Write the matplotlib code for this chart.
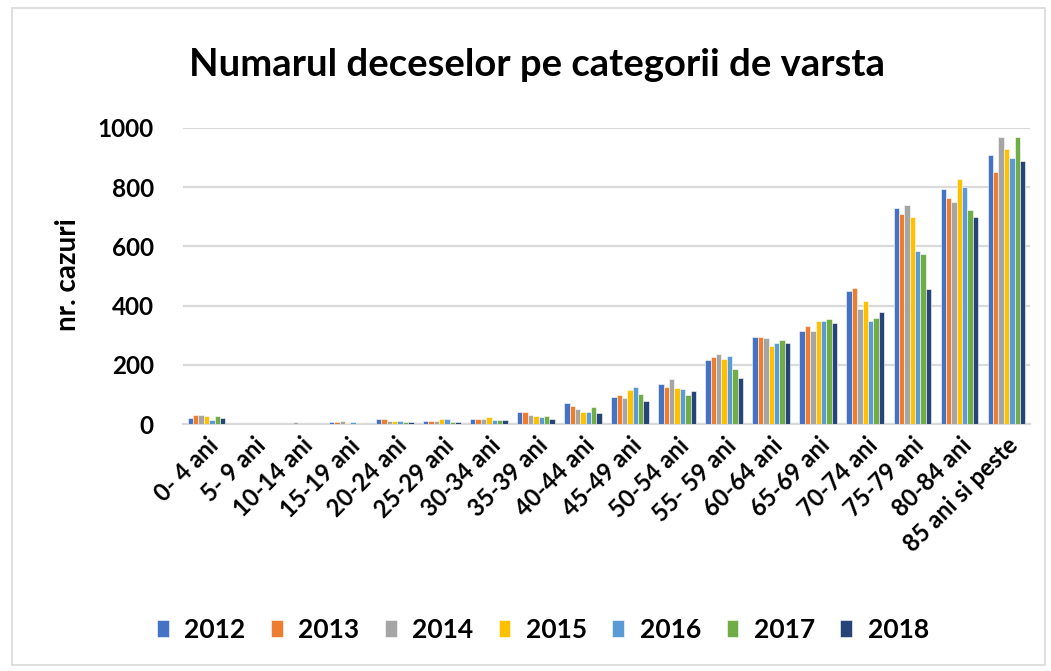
import matplotlib
matplotlib.use("Agg")
import matplotlib.pyplot as plt
import numpy as np
from matplotlib.patches import Rectangle

categories = ["0- 4 ani", "5- 9 ani", "10-14 ani", "15-19 ani", "20-24 ani", "25-29 ani",
              "30-34 ani", "35-39 ani", "40-44 ani", "45-49 ani", "50-54 ani", "55- 59 ani",
              "60-64 ani", "65-69 ani", "70-74 ani", "75-79 ani", "80-84 ani", "85 ani si peste"]
years = ["2012", "2013", "2014", "2015", "2016", "2017", "2018"]

v2012 = [20, 1, 1, 6, 16, 10, 18, 42, 72, 92, 136, 216, 295, 315, 449, 730, 794, 909]
v2013 = [30, 1, 1, 6, 16, 10, 18, 42, 62, 97, 126, 225, 295, 330, 459, 709, 763, 853]
v2014 = [30, 1, 7, 10, 10, 10, 18, 32, 52, 87, 152, 235, 290, 315, 388, 739, 749, 969]
v2015 = [26, 1, 1, 5, 10, 16, 22, 27, 42, 116, 121, 221, 265, 349, 414, 699, 829, 929]
v2016 = [15, 1, 1, 6, 10, 16, 12, 22, 42, 126, 117, 230, 275, 349, 349, 584, 800, 899]
v2017 = [26, 1, 1, 5, 6, 6, 12, 28, 57, 101, 97, 186, 285, 355, 359, 574, 724, 969]
v2018 = [20, 1, 1, 1, 6, 6, 13, 18, 37, 77, 111, 156, 275, 340, 379, 455, 699, 888]
series = [v2012, v2013, v2014, v2015, v2016, v2017, v2018]
colors = ["#4472C4", "#ED7D31", "#A5A5A5", "#FFC000", "#5B9BD5", "#70AD47", "#264478"]

plt.rcParams['font.family'] = ['Lato', 'DejaVu Sans']

W, H = 1051, 671
fig = plt.figure(figsize=(W/100, H/100), dpi=100)
ax = fig.add_axes([183/W, 1 - 424/H, (1030-183)/W, (424-128)/H])

n = len(series)
x = np.arange(len(categories))
group_w = 0.8
bw = group_w / n
for i, (vals, c, yr) in enumerate(zip(series, colors, years)):
    ax.bar(x - group_w/2 + bw*(i+0.5), vals, width=bw, color=c, label=yr,
           edgecolor="white", linewidth=0.4, zorder=3)

ax.set_xlim(-0.5, len(categories) - 0.5)
ax.set_ylim(0, 1000)
ax.set_yticks(range(0, 1001, 200))
ax.yaxis.grid(True, color="#d9d9d9", linewidth=1.6, zorder=0)
ax.set_axisbelow(True)
for s in ["top", "right", "left"]:
    ax.spines[s].set_visible(False)
ax.spines["bottom"].set_color("#d9d9d9")
ax.spines["bottom"].set_linewidth(1.6)
ax.tick_params(axis="both", length=0)
ax.tick_params(axis="y", pad=21, labelsize=17.5)
ax.tick_params(axis="x", pad=7)
ax.set_xticks(x)
ax.set_xticklabels(categories, rotation=45, ha="right", rotation_mode="anchor",
                   fontsize=17, fontweight="bold")
for lab in ax.get_yticklabels():
    lab.set_fontweight("bold")

fig.text(68/W, 1 - 275/H, "nr. cazuri", rotation=90, ha="center", va="center",
         fontsize=20, fontweight="bold")

fig.text(537/W, 1 - 76/H, "Numarul deceselor pe categorii de varsta",
         ha="center", va="baseline", fontsize=27.5, fontweight="bold")

leg = fig.legend(loc="center", bbox_to_anchor=(543/W, 1 - 630/H), ncol=7,
                 frameon=False, handlelength=0.45, handleheight=0.62,
                 columnspacing=0.95, handletextpad=0.6,
                 prop={"weight": "bold", "size": 19})

fig.patches.append(Rectangle((12/W, 1 - 665/H), (1045-12)/W, (665-8)/H,
                             transform=fig.transFigure, fill=False,
                             edgecolor="#d9d9d9", linewidth=1.2))

fig.savefig("out.png", dpi=100)
